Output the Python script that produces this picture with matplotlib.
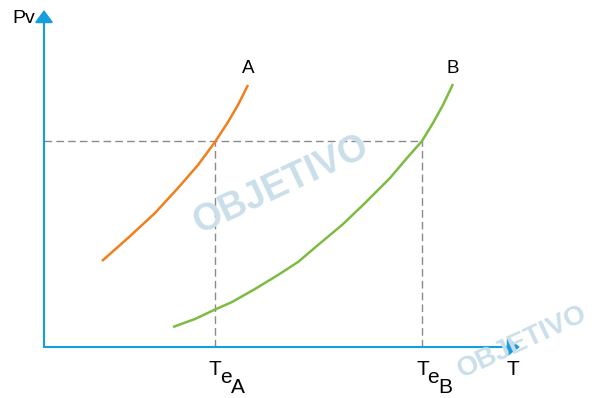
import matplotlib
matplotlib.use("Agg")

import matplotlib.pyplot as plt

# curve A (orange) and curve B (green)
ta = [58, 84, 111, 134, 154, 171, 184, 194, 204]
pa = [86, 109, 134, 159, 182, 205, 225, 242, 262]

tb = [129, 151, 170, 188, 211, 234, 254, 274, 298, 319, 326, 346, 363, 378, 389, 399, 409]
pb = [20, 28, 37, 45, 58, 72, 85, 102, 122, 142, 149, 169, 189, 206, 224, 242, 263]

pv_eq = 206
te_a = 171
te_b = 378

W, H = 599, 398

plt.rcParams["font.family"] = ["Liberation Sans", "DejaVu Sans"]

fig = plt.figure(figsize=(W / 100, H / 100), dpi=100)
ax = fig.add_axes([44 / W, 51 / H, 476 / W, 337 / H])
ax.set_xlim(0, 476)
ax.set_ylim(0, 337)
ax.axis("off")


def ft(x, y, s, **kw):
    # place text by pixel position (from top-left)
    fig.text(x / W, 1 - y / H, s, **kw)


# watermarks
wm = "#cadfe9"
ft(281, 185, "OBJETIVO", rotation=25, fontsize=27, fontweight="bold",
   color=wm, ha="center", va="center", zorder=0)
ft(522, 342, "OBJETIVO", rotation=25, fontsize=20, fontweight="bold",
   color=wm, ha="center", va="center", zorder=0)

dash = dict(color="#8a8a8a", lw=1, ls=(0, (5.5, 3)))
ax.plot([0, te_b], [pv_eq, pv_eq], **dash)
ax.plot([te_a, te_a], [0, pv_eq], **dash)
ax.plot([te_b, te_b], [0, pv_eq], **dash)

ax.plot(ta, pa, color="#f07f1e", lw=1.8, solid_capstyle="butt", solid_joinstyle="round")
ax.plot(tb, pb, color="#7dbb42", lw=1.8, solid_capstyle="butt", solid_joinstyle="round")

blue = "#159ddf"
arr = dict(arrowstyle="-|>,head_length=0.75,head_width=0.55",
           color=blue, lw=1.5, shrinkA=0, shrinkB=0)
ax.annotate("", xy=(1.0, 0), xytext=(0, 0), xycoords="axes fraction",
            arrowprops=arr, clip_on=False)
ax.annotate("", xy=(0, 1.0), xytext=(0, 0), xycoords="axes fraction",
            arrowprops=arr, clip_on=False)

ft(12.5, 23, "Pv", fontsize=14, ha="left", va="baseline")
ft(513, 375, "T", fontsize=15, ha="center", va="baseline")
ft(248.5, 73, "A", fontsize=13.5, ha="center", va="baseline")
ft(453, 73, "B", fontsize=13.5, ha="center", va="baseline")

# T with stepped subscripts e and A / B
for xc, sub in [(215, "A"), (422.5, "B")]:
    ft(xc, 375, "T", fontsize=15, ha="center", va="baseline")
    ft(xc + 5, 383, "e", fontsize=15, ha="left", va="baseline")
    ft(xc + 15.5, 393, sub, fontsize=15, ha="left", va="baseline")

fig.savefig("out.png", dpi=100)
